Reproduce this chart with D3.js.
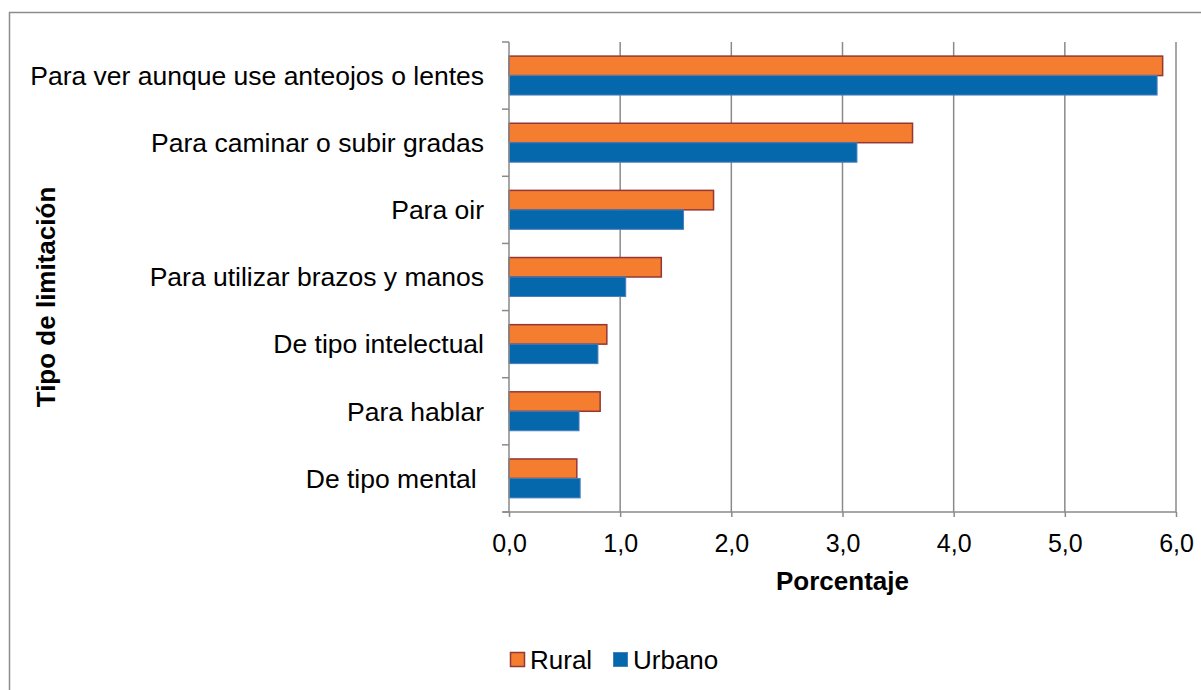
<!DOCTYPE html>
<html>
<head>
<meta charset="utf-8">
<script src="https://cdn.jsdelivr.net/npm/d3@7"></script>
<style>
	body { margin: 0; background: #fff; }
	svg { display: block; font-family: "Liberation Sans", Arial, sans-serif; }
</style>
</head>
<body>
<svg id="chart" width="1201" height="690"></svg>
<script>
// data
var categories = [
	"Para ver aunque use anteojos o lentes",
	"Para caminar o subir gradas",
	"Para oir",
	"Para utilizar brazos y manos",
	"De tipo intelectual",
	"Para hablar",
	"De tipo mental "
];
var seriesNames = ["Rural", "Urbano"];
var ruralValues = [5.88, 3.63, 1.84, 1.37, 0.88, 0.82, 0.61];
var urbanoValues = [5.83, 3.13, 1.57, 1.05, 0.80, 0.63, 0.64];
var xTicks = [0, 1, 2, 3, 4, 5, 6];

var colors = {
	"Rural": { fill: "#F47D30", stroke: "#953735" },
	"Urbano": { fill: "#0568AC", stroke: "#4A7EBB" }
};
var gridColor = "#8A8A8A";

var rows = categories.map(function(c, i){
	return { cat: c, Rural: ruralValues[i], Urbano: urbanoValues[i] };
});

var svg = d3.select("#chart");

// outer chart border (only left and top visible in the frame)
svg.append("rect")
	.attr("x", 9.5)
	.attr("y", 12.5)
	.attr("width", 1300)
	.attr("height", 800)
	.attr("fill", "none")
	.attr("stroke", "#8C8C8C")
	.attr("stroke-width", 1.5);

var plot = { left: 509, right: 1176, top: 42, bottom: 512 };

var xScale = d3.scaleLinear()
	.domain([0, 6])
	.range([plot.left, plot.right]);

var yScale = d3.scaleBand()
	.domain(categories)
	.range([plot.top, plot.bottom])
	.paddingInner(0.42)
	.paddingOuter(0.21);

var ySub = d3.scaleBand()
	.domain(seriesNames)
	.range([0, yScale.bandwidth()]);

// vertical gridlines
svg.append("g")
	.attr("class", "grid")
	.selectAll("line")
	.data(xTicks.filter(d => d > 0))
	.join("line")
	.attr("x1", d => xScale(d))
	.attr("x2", d => xScale(d))
	.attr("y1", plot.top)
	.attr("y2", plot.bottom)
	.attr("stroke", gridColor)
	.attr("stroke-width", 1.5);

// bars
var groups = svg.append("g")
	.attr("class", "bars")
	.selectAll("g")
	.data(rows)
	.join("g")
	.attr("transform", d => "translate(0," + yScale(d.cat) + ")");

groups.selectAll("rect")
	.data(d => seriesNames.map(function(s){ return { key: s, value: d[s] }; }))
	.join("rect")
	.attr("x", xScale(0))
	.attr("y", d => ySub(d.key))
	.attr("width", d => xScale(d.value) - xScale(0))
	.attr("height", ySub.bandwidth())
	.attr("fill", d => colors[d.key].fill)
	.attr("stroke", d => colors[d.key].stroke)
	.attr("stroke-width", d => d.key == "Rural" ? 1.5 : 1);

// x axis
var xAxis = d3.axisBottom(xScale)
	.tickValues(xTicks)
	.tickSize(5)
	.tickFormat(d => d3.format(".1f")(d).replace(".", ","));

var gx = svg.append("g")
	.attr("transform", "translate(0," + plot.bottom + ")")
	.call(xAxis);
gx.select(".domain")
	.attr("d", "M" + (plot.left - 6) + ",0H" + plot.right)
	.attr("stroke", gridColor)
	.attr("stroke-width", 1.5);
gx.selectAll(".tick line")
	.attr("stroke", gridColor)
	.attr("stroke-width", 1.5);
gx.selectAll(".tick text")
	.attr("y", 22)
	.attr("dy", "0.71em")
	.style("font-size", "25px")
	.style("font-family", "'Liberation Sans', Arial, sans-serif")
	.attr("fill", "#000");

// y axis with category ticks at band boundaries
var yAxisG = svg.append("g").attr("class", "yaxis");
yAxisG.append("line")
	.attr("x1", plot.left)
	.attr("x2", plot.left)
	.attr("y1", plot.top)
	.attr("y2", plot.bottom)
	.attr("stroke", gridColor)
	.attr("stroke-width", 1.5);
var step = yScale.step();
yAxisG.selectAll(".ytick")
	.data(d3.range(categories.length + 1))
	.join("line")
	.attr("class", "ytick")
	.attr("x1", plot.left - 7)
	.attr("x2", plot.left)
	.attr("y1", i => plot.top + i * step)
	.attr("y2", i => plot.top + i * step)
	.attr("stroke", gridColor)
	.attr("stroke-width", 1.5);

yAxisG.selectAll(".ylabel")
	.data(categories)
	.join("text")
	.attr("class", "ylabel")
	.attr("x", plot.left - 25)
	.attr("y", d => yScale(d) + yScale.bandwidth() / 2)
	.attr("dy", "0.35em")
	.attr("text-anchor", "end")
	.style("font-size", "26.5px")
	.style("white-space", "pre")
	.text(d => d);

// axis titles
svg.append("text")
	.attr("x", (plot.left + plot.right) / 2)
	.attr("y", 590)
	.attr("text-anchor", "middle")
	.style("font-size", "26px")
	.style("font-weight", "bold")
	.text("Porcentaje");

svg.append("text")
	.attr("transform", "translate(55,297) rotate(-90)")
	.attr("text-anchor", "middle")
	.style("font-size", "26px")
	.style("font-weight", "bold")
	.text("Tipo de limitación");

// legend
var legend = svg.append("g")
	.attr("class", "legend")
	.attr("transform", "translate(510,652)");
var legendX = [0, 103];
var items = legend.selectAll("g")
	.data(seriesNames)
	.join("g")
	.attr("transform", (d, i) => "translate(" + legendX[i] + ",0)");
items.append("rect")
	.attr("x", 0.5)
	.attr("y", 0.5)
	.attr("width", 14)
	.attr("height", 14)
	.attr("fill", d => colors[d].fill)
	.attr("stroke", d => colors[d].stroke)
	.attr("stroke-width", d => d == "Rural" ? 1.5 : 1);
items.append("text")
	.attr("x", 20)
	.attr("y", 7.5)
	.attr("dy", "0.35em")
	.style("font-size", "26px")
	.text(d => d);
</script>
</body>
</html>
